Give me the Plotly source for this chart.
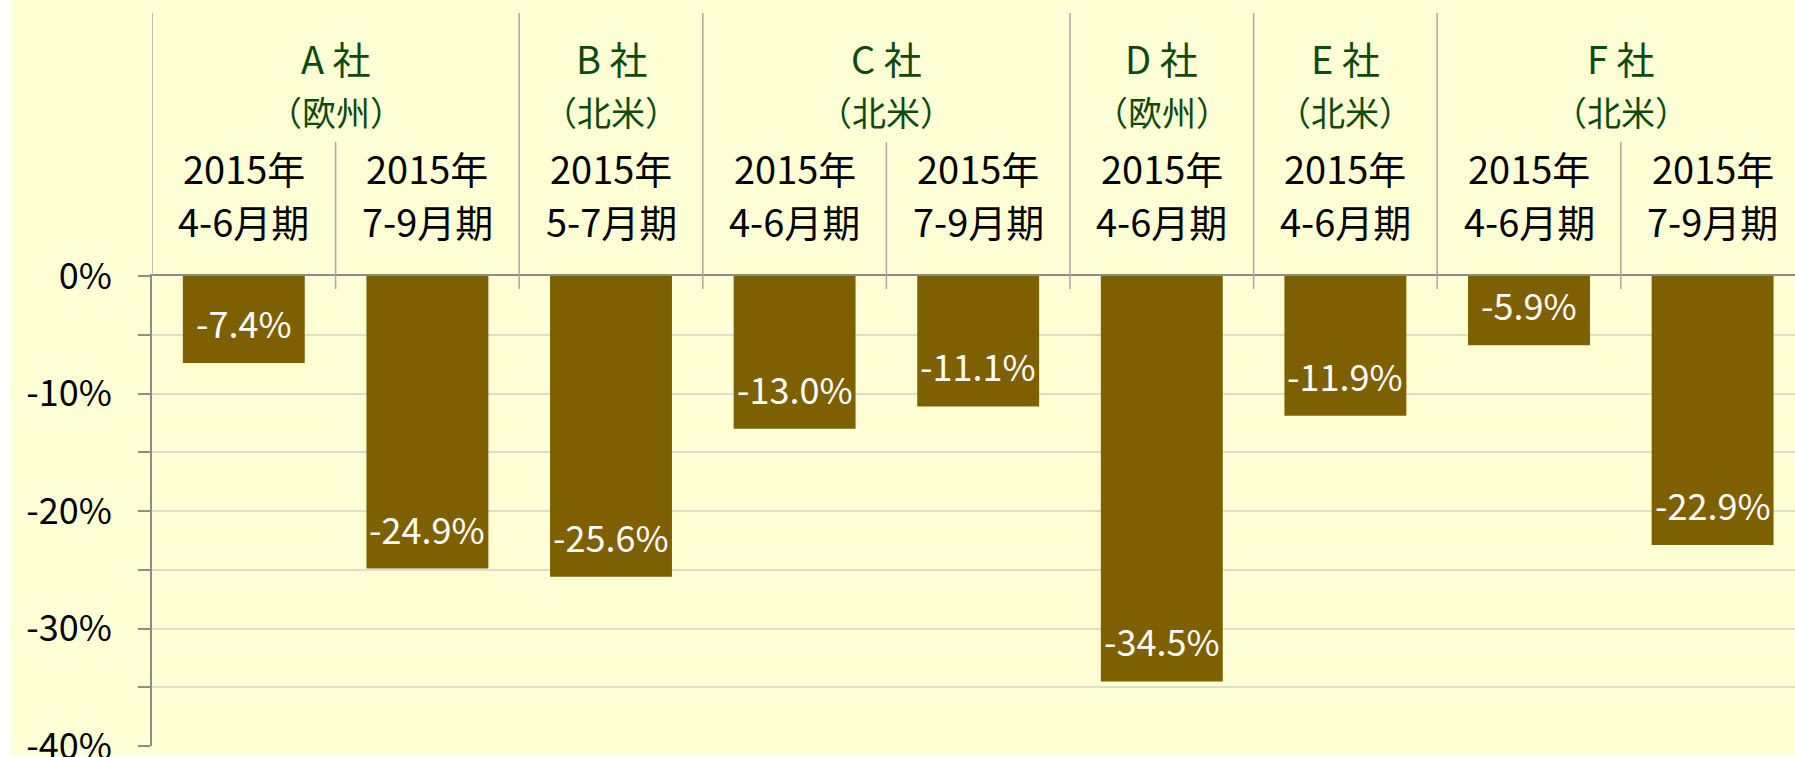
import plotly.graph_objects as go

# ---- data ----
companies = ["A 社", "B 社", "C 社", "D 社", "E 社", "F 社"]
regions = ["（欧州）", "（北米）", "（北米）", "（欧州）", "（北米）", "（北米）"]
bar_company = [0, 0, 1, 2, 2, 3, 4, 5, 5]
period_year = ["2015年"] * 9
period_months = ["4-6月期", "7-9月期", "5-7月期", "4-6月期", "7-9月期",
                 "4-6月期", "4-6月期", "4-6月期", "7-9月期"]
values = [-7.4, -24.9, -25.6, -13.0, -11.1, -34.5, -11.9, -5.9, -22.9]
y_tick_values = [0, -10, -20, -30, -40]
y_tick_labels = ["0%", "-10%", "-20%", "-30%", "-40%"]

# ---- style / geometry ----
W, H = 1795, 757
ML, MR, MT, MB = 152, 0, 276, 11
PLOT_W = W - ML - MR
PLOT_H = H - MT - MB
CAT_PX = 183.6
BG = "#FFFFD5"
BAR = "#7F6000"
GREEN = "#0E4A0E"
SEP = "#A8A8A8"
AXIS = "#8C8C8C"
GRID = "#DDDDD0"
FONT = "Noto Sans CJK JP"


def py(pix):
    """pixel row -> paper y"""
    return (H - MB - pix) / PLOT_H


def px_x(pix):
    return (pix - ML) / PLOT_W


n = len(values)
xs = list(range(n))

fig = go.Figure()
fig.add_trace(go.Bar(x=xs, y=values, width=0.664, marker=dict(color=BAR, line=dict(width=0)),
                     hoverinfo="skip"))

shapes = []
# background (chart area)
shapes.append(dict(type="rect", xref="paper", yref="paper",
                   x0=px_x(10), x1=px_x(W + 5), y0=py(755), y1=py(-5),
                   fillcolor=BG, line=dict(width=0), layer="below"))

# separators
bounds = [(-0.5, True)]
for i in range(n - 1):
    bounds.append((i + 0.5, bar_company[i] != bar_company[i + 1]))
for xb, outer in bounds:
    top = 13 if outer else 142
    bottom = 276 if xb == -0.5 else 289
    shapes.append(dict(type="line", xref="x", yref="paper", x0=xb, x1=xb,
                       y0=py(top), y1=py(bottom), line=dict(color=SEP, width=1.5)))

annotations = []
# company / region labels
for c in range(len(companies)):
    idx = [i for i in range(n) if bar_company[i] == c]
    cx = sum(idx) / len(idx)
    annotations.append(dict(x=cx, xref="x", y=py(57), yref="paper", text=companies[c],
                            showarrow=False, yanchor="middle", xanchor="center",
                            font=dict(family=FONT, size=38, color=GREEN)))
    annotations.append(dict(x=cx, xref="x", y=py(111), yref="paper", text=regions[c],
                            showarrow=False, yanchor="middle", xanchor="center",
                            font=dict(family=FONT, size=34, color=GREEN)))
# period labels
for i in range(n):
    annotations.append(dict(x=i, xref="x", y=py(168), yref="paper", text=period_year[i],
                            showarrow=False, yanchor="middle", xanchor="center",
                            font=dict(family=FONT, size=38, color="black")))
    annotations.append(dict(x=i, xref="x", y=py(220), yref="paper", text=period_months[i],
                            showarrow=False, yanchor="middle", xanchor="center",
                            font=dict(family=FONT, size=38, color="black")))
# data labels
for i, v in enumerate(values):
    annotations.append(dict(x=i, xref="x", y=v, yref="y", text=f"{v:.1f}%",
                            showarrow=False, yanchor="middle", xanchor="center", yshift=41,
                            font=dict(family=FONT, size=36, color="white")))

fig.update_layout(
    width=W, height=H,
    margin=dict(l=ML, r=MR, t=MT, b=MB, pad=0, autoexpand=False),
    paper_bgcolor="white", plot_bgcolor=BG,
    showlegend=False,
    shapes=shapes, annotations=annotations,
    xaxis=dict(range=[-0.5, -0.5 + PLOT_W / CAT_PX], side="top", showline=True,
               linecolor=AXIS, linewidth=2, showticklabels=False, ticks="",
               showgrid=False, zeroline=False, fixedrange=True, automargin=False),
    yaxis=dict(range=[-40, 0], tickvals=y_tick_values, ticktext=y_tick_labels,
               showline=True, linecolor=AXIS, linewidth=2, ticks="outside", ticklen=12,
               tickcolor=AXIS, tickwidth=1.5, showgrid=True, gridcolor=GRID,
               gridwidth=1.5, zeroline=False, ticklabelstandoff=19,
               ticklabeloverflow="allow", automargin=False,
               tickfont=dict(family=FONT, size=36, color="black"),
               minor=dict(dtick=5, ticks="outside", ticklen=12, tickcolor=AXIS,
                          tickwidth=1.5, showgrid=True, gridcolor=GRID, gridwidth=1.5),
               fixedrange=True),
)

fig.write_html("out.html", config={"displayModeBar": False},
               post_script="document.body.style.margin='0';")
